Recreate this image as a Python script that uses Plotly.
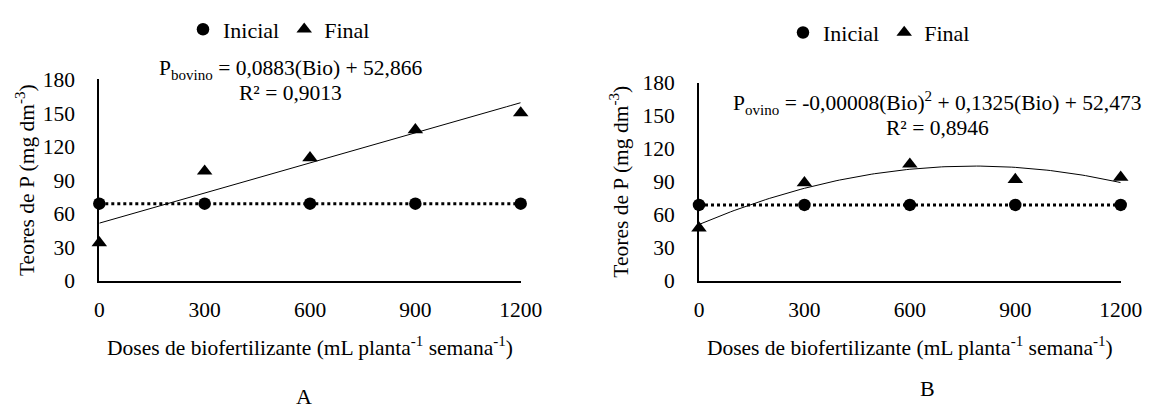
import numpy as np
import plotly.graph_objects as go

# ---- data ----
doses = [0, 300, 600, 900, 1200]
bov_inicial = [69, 69, 69, 69, 69]
bov_final = [34, 98, 110, 135, 150]
ovi_inicial = [69, 69, 69, 69, 69]
ovi_final = [48, 89, 106, 92, 94]
y_ticks = [0, 30, 60, 90, 120, 150, 180]
x_ticks = [0, 300, 600, 900, 1200]

eq_bov = "P<sub>bovino</sub> = 0,0883(Bio) + 52,866"
r2_bov = "R² = 0,9013"
eq_ovi = "P<sub>ovino</sub> = -0,00008(Bio)<sup>2</sup> + 0,1325(Bio) + 52,473"
r2_ovi = "R² = 0,8946"

PAGE_W, PAGE_H = 1170, 409
OFF = 8  # default page body margin
W, H = PAGE_W - OFF, PAGE_H - OFF
FONT = "Liberation Serif, Times New Roman, DejaVu Serif, serif"
FS = 21.5


def px(x):
    return (x - OFF) / W


def py(y):
    return 1 - (y - OFF) / H


fig = go.Figure()

xfit = np.linspace(0, 1200, 121)
panels = [
    ("x", "y", "legend", bov_inicial, bov_final, 1),
    ("x2", "y2", "legend2", ovi_inicial, ovi_final, 2),
]
for xa, ya, lg, ini, fin, deg in panels:
    fig.add_trace(go.Scatter(x=doses, y=ini, mode="lines", xaxis=xa, yaxis=ya,
                             line=dict(color="black", width=3, dash="dot"),
                             showlegend=False, cliponaxis=False, hoverinfo="skip"))
    coef = np.polyfit(doses, fin, deg)
    fig.add_trace(go.Scatter(x=xfit, y=np.polyval(coef, xfit), mode="lines",
                             xaxis=xa, yaxis=ya, line=dict(color="black", width=1),
                             showlegend=False, cliponaxis=False, hoverinfo="skip"))
    fig.add_trace(go.Scatter(x=doses, y=ini, mode="markers", name="Inicial",
                             xaxis=xa, yaxis=ya, legend=lg,
                             marker=dict(symbol="circle", size=12.5, color="black"),
                             cliponaxis=False))
    fig.add_trace(go.Scatter(x=doses, y=fin, mode="markers", name="Final",
                             xaxis=xa, yaxis=ya, legend=lg,
                             marker=dict(symbol="triangle-up", size=13.5, color="black"),
                             cliponaxis=False))

axis_common = dict(showgrid=False, zeroline=False, showline=True, linecolor="black",
                   linewidth=2, ticks="outside", tickcolor="rgba(0,0,0,0)",
                   tickfont=dict(family=FONT, size=FS, color="black"),
                   automargin=False)

xtitle = "Doses de biofertilizante (mL planta<sup>-1</sup> semana<sup>-1</sup>)"
ytitle = "Teores de P (mg dm<sup>-3</sup>)"

fig.update_layout(
    width=W, height=H,
    margin=dict(l=0, r=0, t=0, b=0),
    paper_bgcolor="white", plot_bgcolor="white",
    font=dict(family=FONT, size=FS, color="black"),
    xaxis=dict(domain=[px(99.3), px(520.7)], range=[0, 1200], tickvals=x_ticks,
               ticklen=8, anchor="y",
               title=dict(text=xtitle, standoff=19, font=dict(family=FONT, size=FS)),
               **axis_common),
    yaxis=dict(domain=[py(278.3), py(72.7)], range=[0, 180], tickvals=y_ticks,
               ticklen=18, anchor="x",
               title=dict(text=ytitle, standoff=2, font=dict(family=FONT, size=FS)),
               **axis_common),
    xaxis2=dict(domain=[px(699), px(1120.7)], range=[0, 1200], tickvals=x_ticks,
                ticklen=8, anchor="y2",
                title=dict(text=xtitle, standoff=19, font=dict(family=FONT, size=FS)),
                **axis_common),
    yaxis2=dict(domain=[py(278.3), py(76)], range=[0, 180], tickvals=y_ticks,
                ticklen=18, anchor="x2",
                title=dict(text=ytitle, standoff=8, font=dict(family=FONT, size=FS)),
                **axis_common),
    legend=dict(orientation="h", x=px(279), y=py(21.7), xanchor="center",
                yanchor="middle", font=dict(family=FONT, size=22),
                itemwidth=30, tracegroupgap=0, bgcolor="rgba(0,0,0,0)"),
    legend2=dict(orientation="h", x=px(879), y=py(25), xanchor="center",
                 yanchor="middle", font=dict(family=FONT, size=22),
                 itemwidth=30, tracegroupgap=0, bgcolor="rgba(0,0,0,0)"),
    showlegend=True,
)

ann = [
    (eq_bov, 290, 63, FS),
    (r2_bov, 290, 87, FS),
    (eq_ovi, 937, 97, FS),
    (r2_ovi, 937, 122, FS),
    ("A", 304, 396, 22),
    ("B", 928, 388, 22),
]
for text, x, y, s in ann:
    fig.add_annotation(text=text, x=px(x), y=py(y), xref="paper", yref="paper",
                       xanchor="center", yanchor="middle", showarrow=False,
                       font=dict(family=FONT, size=s, color="black"))

fig.write_html("out.html")
